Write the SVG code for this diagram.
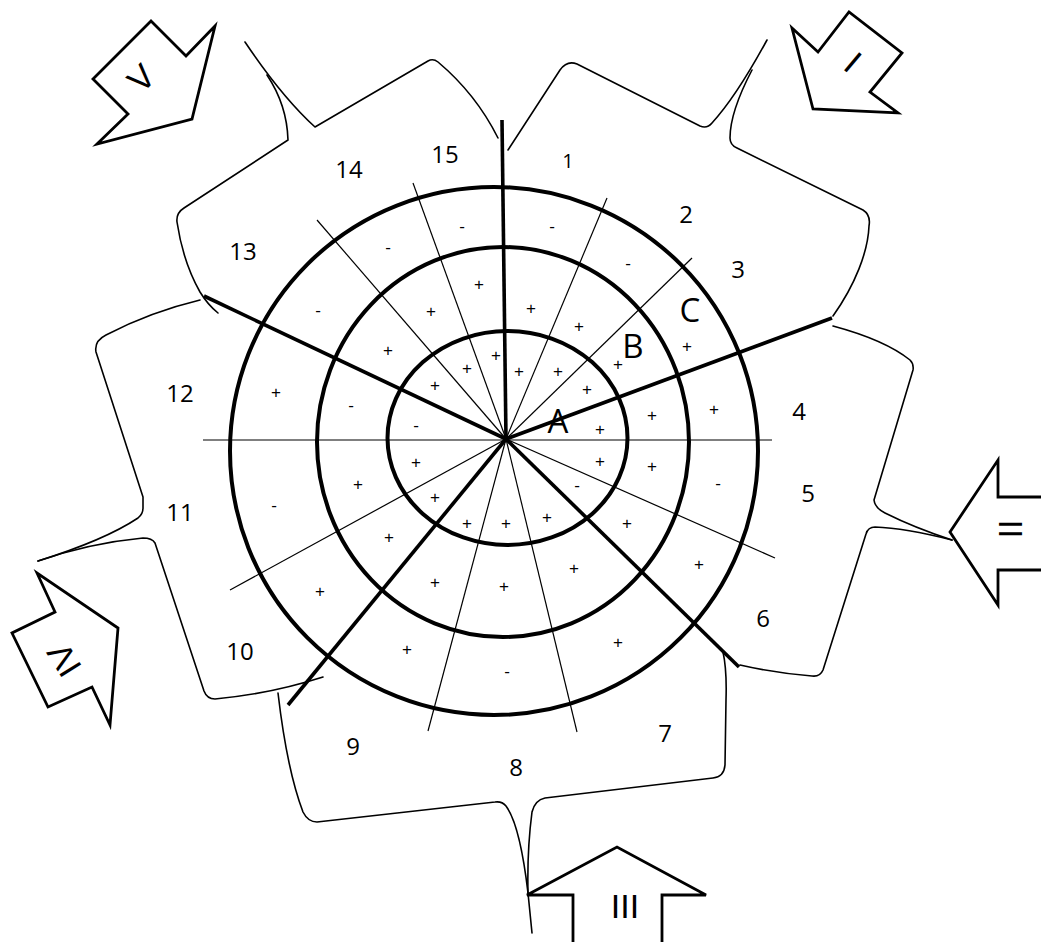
<svg xmlns="http://www.w3.org/2000/svg" width="1041" height="942" viewBox="0 0 1041 942">
<style>
.ol{fill:none;stroke:#000;stroke-width:1.6;stroke-linejoin:round;stroke-linecap:round}
.arr{fill:#fff;stroke:#000;stroke-width:2.8;stroke-linejoin:miter}
.ring{fill:none;stroke:#000;stroke-width:4}
.thick{stroke:#000;stroke-width:3.6;stroke-linecap:butt}
.thin{stroke:#000;stroke-width:1.2}
.num{font-family:"Open Sans","Liberation Sans",sans-serif;font-size:24px;fill:#000;text-anchor:middle}
.big{font-family:"Open Sans","Liberation Sans",sans-serif;font-size:33px;fill:#000;text-anchor:middle}
.rom{font-family:"Liberation Sans",sans-serif;font-size:34px;fill:#000;text-anchor:middle}
.pm{font-family:"Liberation Sans",sans-serif;font-size:17px;fill:#000;text-anchor:middle}
</style>
<rect width="1041" height="942" fill="#fff"/>

<g id="outline">
  <g id="region-I">
    <path class="ol" d="M508,150 L560,70 Q567,60 577,64 L700,126 Q707,129 712,123 Q736,97 767,40"/>
    <path class="ol" d="M752,70 Q730,112 730,138 Q730,145 737,148 L863,210 Q871,215 869,226 C868,252 855,285 833,316"/>
  </g>
  <g id="region-II">
    <path class="ol" d="M833,326 Q885,340 910,360 Q914,364 913,370 L874,500 Q875,508 885,513 Q915,528 952,540"/>
    <path class="ol" d="M952,540 Q905,528 875,527 Q868,527 866,534 L823,670 Q820,677 812,676 Q775,673 740,665"/>
  </g>
  <g id="region-III">
    <path class="ol" d="M723,652 Q727,670 726,700 L725,765 Q724,777 713,778 L545,798 Q535,800 532,812 Q527,850 528,893 L532,933"/>
    <path class="ol" d="M528,893 Q520,825 506,806 Q502,801 495,802 L317,822 Q308,822 303,812 Q287,770 278,693"/>
  </g>
  <g id="region-IV">
    <path class="ol" d="M323,677 Q270,694 215,699 Q207,699 204,691 L155,543 Q152,538 143,538 Q90,543 38,561"/>
    <path class="ol" d="M38,561 Q105,540 138,518 Q143,514 143,508 L143,497 L96,352 Q94,341 106,335 Q150,312 200,300"/>
  </g>
  <g id="region-V">
    <path class="ol" d="M267,75 Q287,105 288,140 L184,208 Q176,213 177,222 Q183,262 200,292 Q208,305 218,313"/>
    <path class="ol" d="M245,42 Q282,97 315,127 L428,61 Q433,58 438,62 Q476,94 498,138"/>
  </g>
</g>

<g id="rings">
  <circle class="ring" cx="494" cy="451" r="264"/>
  <ellipse class="ring" cx="503" cy="442" rx="186" ry="195"/>
  <ellipse class="ring" cx="507.5" cy="438" rx="120" ry="107"/>
</g>

<g id="connectors">
  <line class="thin" x1="203" y1="440" x2="772" y2="440"/>
  <line class="thin" x1="506" y1="439" x2="413" y2="183"/>
  <line class="thin" x1="506" y1="439" x2="317" y2="220"/>
  <line class="thin" x1="506" y1="439" x2="230" y2="590"/>
  <line class="thin" x1="506" y1="439" x2="428" y2="731"/>
  <line class="thin" x1="506" y1="439" x2="577" y2="732"/>
  <line class="thin" x1="506" y1="439" x2="775" y2="558"/>
  <line class="thin" x1="506" y1="439" x2="692" y2="258"/>
  <line class="thin" x1="506" y1="439" x2="607" y2="198"/>
  <line class="thick" x1="506" y1="439" x2="502" y2="120"/>
  <line class="thick" x1="506" y1="439" x2="832" y2="318"/>
  <line class="thick" x1="506" y1="439" x2="739" y2="667"/>
  <line class="thick" x1="506" y1="439" x2="288" y2="705"/>
  <line class="thick" x1="506" y1="439" x2="204" y2="296"/>
</g>

<g id="arrow-I">
  <polygon class="arr" points="792,28 818,52 849,12 902,53 870,92 898,113 813,109"/>
  <text class="rom" transform="translate(853,62) rotate(40)" y="12">I</text>
</g>
<g id="arrow-II">
  <polygon class="arr" points="950,532 998,460 998,497 1045,497 1045,570 998,570 998,605"/>
  <text class="rom" transform="translate(1010,529) rotate(-90)" y="12">II</text>
</g>
<g id="arrow-III">
  <polygon class="arr" points="527,895 617,847 706,895 662,895 662,948 573,948 573,895"/>
  <text class="rom" x="625" y="918">III</text>
</g>
<g id="arrow-IV">
  <polygon class="arr" points="37,573 55,612 12,633 48,707 92,687 110,725 118,628"/>
  <text class="rom" transform="translate(64,660) rotate(-122)" y="12">IV</text>
</g>
<g id="arrow-V">
  <polygon class="arr" points="97,144 128,114 93,79 151,21 186,56 215,26 192,119"/>
  <text class="rom" transform="translate(141,78) rotate(-45)" y="12">V</text>
</g>

<g id="sector-numbers">
  <text class="num" x="568" y="168" style="font-size:20px">1</text>
  <text class="num" x="686" y="223">2</text>
  <text class="num" x="738" y="278">3</text>
  <text class="num" x="799" y="420">4</text>
  <text class="num" x="808" y="502">5</text>
  <text class="num" x="763" y="627">6</text>
  <text class="num" x="665" y="742">7</text>
  <text class="num" x="516" y="776">8</text>
  <text class="num" x="353" y="755">9</text>
  <text class="num" x="240" y="660">10</text>
  <text class="num" x="180" y="521">11</text>
  <text class="num" x="180" y="402">12</text>
  <text class="num" x="243" y="260">13</text>
  <text class="num" x="349" y="178">14</text>
  <text class="num" x="445" y="163">15</text>
</g>

<g id="ring-labels">
  <text class="big" x="558" y="433">A</text>
  <text class="big" x="633" y="358">B</text>
  <text class="big" x="690" y="322">C</text>
</g>

<g id="signs-outer">
  <text class="pm" x="462" y="232">-</text>
  <text class="pm" x="552" y="232">-</text>
  <text class="pm" x="628" y="269">-</text>
  <text class="pm" x="388" y="253">-</text>
  <text class="pm" x="318" y="316">-</text>
  <text class="pm" x="276" y="398">+</text>
  <text class="pm" x="274" y="511">-</text>
  <text class="pm" x="320" y="597">+</text>
  <text class="pm" x="407" y="655">+</text>
  <text class="pm" x="507" y="677">-</text>
  <text class="pm" x="618" y="648">+</text>
  <text class="pm" x="699" y="570">+</text>
  <text class="pm" x="718" y="489">-</text>
  <text class="pm" x="714" y="415">+</text>
  <text class="pm" x="687" y="352">+</text>
</g>
<g id="signs-middle">
  <text class="pm" x="479" y="290">+</text>
  <text class="pm" x="531" y="314">+</text>
  <text class="pm" x="579" y="332">+</text>
  <text class="pm" x="618" y="370">+</text>
  <text class="pm" x="652" y="421">+</text>
  <text class="pm" x="652" y="472">+</text>
  <text class="pm" x="627" y="529">+</text>
  <text class="pm" x="574" y="574">+</text>
  <text class="pm" x="504" y="592">+</text>
  <text class="pm" x="435" y="588">+</text>
  <text class="pm" x="389" y="543">+</text>
  <text class="pm" x="358" y="490">+</text>
  <text class="pm" x="351" y="411">-</text>
  <text class="pm" x="388" y="356">+</text>
  <text class="pm" x="431" y="317">+</text>
</g>
<g id="signs-inner">
  <text class="pm" x="496" y="361">+</text>
  <text class="pm" x="467" y="374">+</text>
  <text class="pm" x="435" y="391">+</text>
  <text class="pm" x="416" y="431">-</text>
  <text class="pm" x="416" y="468">+</text>
  <text class="pm" x="435" y="503">+</text>
  <text class="pm" x="467" y="529">+</text>
  <text class="pm" x="506" y="529">+</text>
  <text class="pm" x="547" y="523">+</text>
  <text class="pm" x="577" y="491">-</text>
  <text class="pm" x="600" y="467">+</text>
  <text class="pm" x="600" y="435">+</text>
  <text class="pm" x="587" y="395">+</text>
  <text class="pm" x="558" y="377">+</text>
  <text class="pm" x="519" y="377">+</text>
</g>
</svg>
